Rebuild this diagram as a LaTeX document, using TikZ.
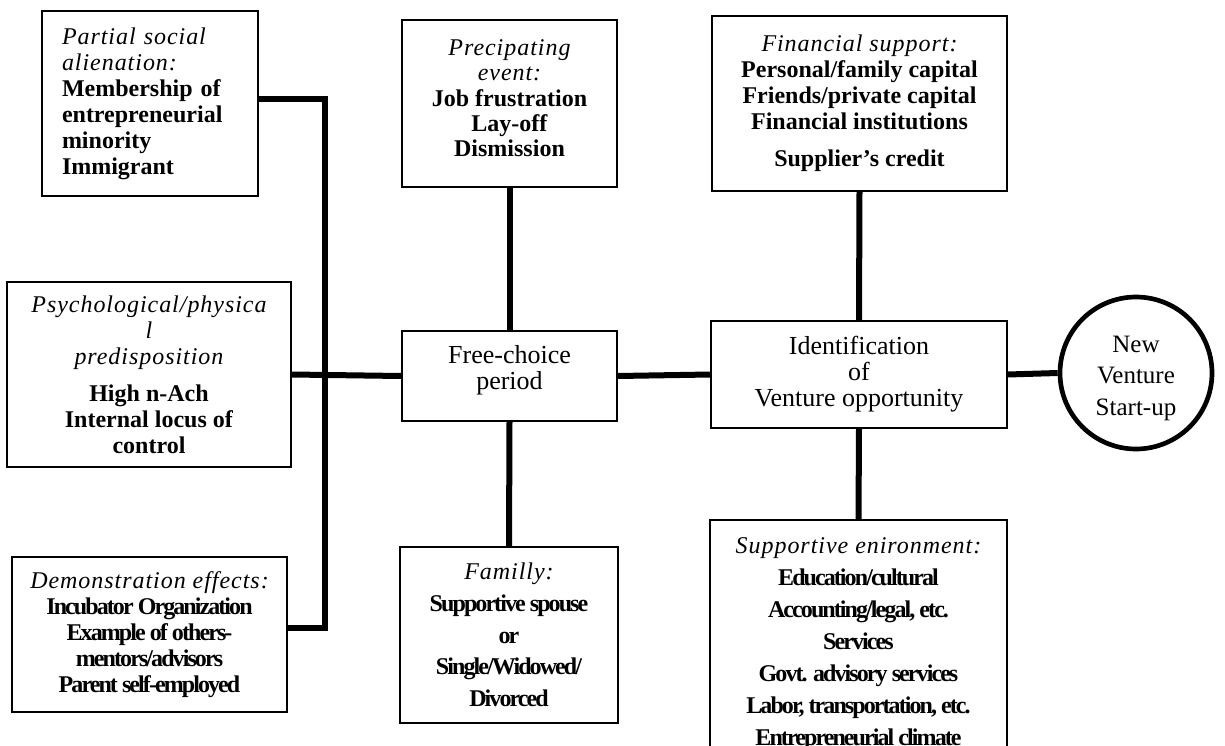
\documentclass[tikz,border=0pt]{standalone}
\usepackage{fontspec}
\setmainfont{Liberation Serif}
\newfontfamily\hdfam[LetterSpace=4]{Liberation Serif}
\newfontfamily\cbfam[LetterSpace=-8]{Liberation Serif}
\newcommand\hd{\hdfam\itshape}
\newcommand\cb{\cbfam\bfseries}
\begin{document}
\begin{tikzpicture}[x=0.75pt,y=-0.75pt,
  box/.style={draw, line width=1.2pt, inner sep=0pt, align=center, font=\fontsize{18}{19.5}\selectfont},
  conn/.style={line width=4.5pt},
  venturestyle/.style={circle, draw, line width=3.5pt, inner sep=0pt, minimum size=114pt, align=center, font=\fontsize{18.75}{23.75}\selectfont}
]
\useasboundingbox (0,0) rectangle (1225,746);
\clip (0,0) rectangle (1225,746);

% left column
\node[box, minimum width=162pt, minimum height=138.75pt, text width=132pt, align=left] (partial) at (150,103.5)
  {{\hd Partial social}\\{\hd alienation:}\\\textbf{Membership of}\\\textbf{entrepreneurial}\\\textbf{minority}\\\textbf{Immigrant}};
\node[box, minimum width=213pt, minimum height=138.75pt] (psych) at (149,374.5)
  {{\hd Psychological/physica}\\{\hd l}\\{\hd predisposition}\\[8pt]\textbf{High n-Ach}\\\textbf{Internal locus of}\\\textbf{control}};
\node[box, minimum width=206.25pt, minimum height=116.25pt] (demo) at (149.5,634.5)
  {{\hd Demonstration effects:}\\{\cb Incubator Organization}\\{\cb Example of others-}\\{\cb mentors/advisors}\\{\cb Parent self-employed}};

% middle column
\node[box, minimum width=161.25pt, minimum height=125.25pt, font=\fontsize{18}{19}\selectfont] (precip) at (509.5,103.5)
  {{\hd Precipating}\\{\hd event:}\\\textbf{Job frustration}\\\textbf{Lay-off}\\\textbf{Dismission}\rule[-8pt]{0pt}{0pt}};
\node[box, minimum width=161.25pt, minimum height=67.5pt, font=\fontsize{19.5}{20}\selectfont] (free) at (509.5,376)
  {Free-choice\\period\rule[-13pt]{0pt}{0pt}};
\node[box, minimum width=163.5pt, minimum height=132pt, font=\fontsize{18}{23.75}\selectfont] (family) at (509,635)
  {{\hd Familly:}\\{\cb Supportive spouse}\\{\cb or}\\{\cb Single/Widowed/}\\{\cb Divorced}};

% right column
\node[box, minimum width=221.25pt, minimum height=131.25pt] (fin) at (859.5,103.5)
  {{\hd Financial support:}\\\textbf{Personal/family capital}\\\textbf{Friends/private capital}\\\textbf{Financial institutions}\\[8pt]\textbf{Supplier’s credit}};
\node[box, minimum width=222pt, minimum height=80.25pt, font=\fontsize{19.5}{19.5}\selectfont] (ident) at (859,374.5)
  {Identification\\of\\Venture opportunity};
\node[box, minimum width=222.75pt, minimum height=186pt, font=\fontsize{18}{24}\selectfont] (supp) at (858.5,644)
  {{\hd Supportive enironment:}\\{\cb Education/cultural}\\{\cb Accounting/legal, etc.}\\{\cb Services}\\{\cb Govt. advisory services}\\{\cb Labor, transportation, etc.}\\{\cb Entrepreneurial climate}};

\node[venturestyle] (venture) at (1136,373) {\rule{0pt}{20pt}New\\Venture\\Start-up};

% connectors
\draw[conn] (partial.east |- 0,99) -| (325,628) -- (demo.east |- 0,628);
\draw[conn] (psych.east) -- (free.west);
\draw[conn] (precip.south) -- (free.north);
\draw[conn] (free.south) -- (family.north);
\draw[conn] (free.east) -- (ident.west);
\draw[conn] (fin.south) -- (ident.north);
\draw[conn] (ident.south) -- (supp.north);
\draw[conn] (ident.east) -- (venture.west);
\end{tikzpicture}
\end{document}
